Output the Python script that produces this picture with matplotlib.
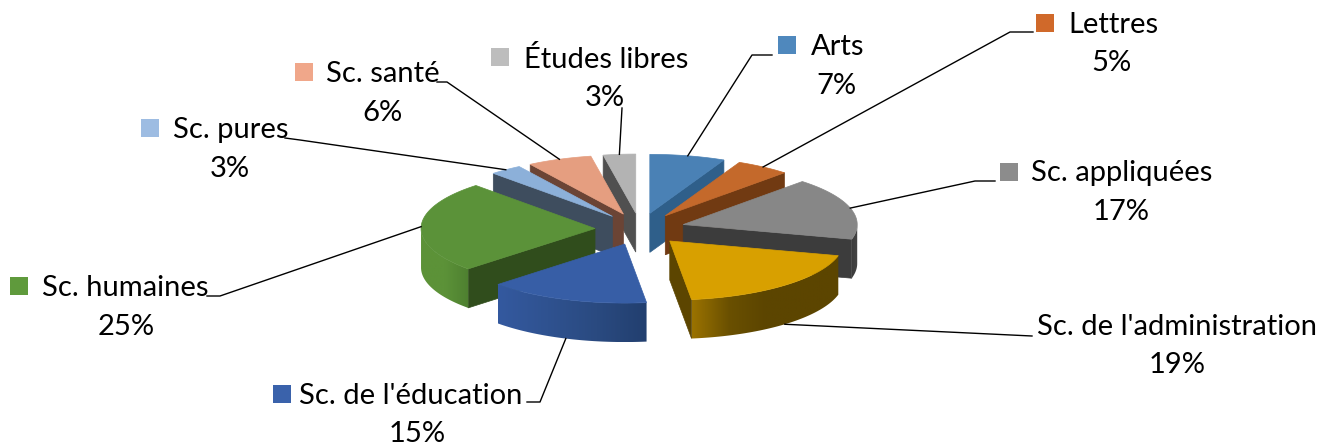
import numpy as np
import matplotlib
matplotlib.use('Agg')
import matplotlib.pyplot as plt
from matplotlib.colors import LinearSegmentedColormap
from matplotlib.patches import Polygon, Rectangle

plt.rcParams['font.family'] = ['Lato', 'DejaVu Sans']

# data, clockwise from 12 o'clock
categories = ['Arts', 'Lettres', 'Sc. appliquées', "Sc. de l'administration", "Sc. de l'éducation",
              'Sc. humaines', 'Sc. pures', 'Sc. santé', 'Études libres']
values = [7, 5, 17, 19, 15, 25, 3, 6, 3]

# colours of the top face, cut walls and rim gradient (right to left on screen)
top_colors = ['#4a81b5', '#c4692b', '#878787', '#d8a000', '#375ea6', '#5b9239', '#8cb0d9', '#e59e80', '#b3b3b3']
cut_colors = ['#2f5f8a', '#713a12', '#3c3c3c', '#5c4500', '#2c4a85', '#304d1c', '#3e4d5e', '#6b4435', '#505050']
rim_colors = [['#2f5f8a'] * 2, ['#713a12'] * 2, ['#454545', '#3c3c3c'],
              ['#5c4500', '#5c4500', '#5c4500', '#6a5000', '#9a7200'],
              ['#223f6f', '#2a4a80', '#2f5290', '#34599f'],
              ['#4e8030', '#5c9238', '#5c9238'],
              ['#3e4d5e'] * 2, ['#6b4435'] * 2, ['#505050'] * 2]
key_colors = ['#4f88bd', '#d0692a', '#8c8c8c', None, '#3a62ab', '#5f9a3c', '#9dbce2', '#f0a78a', '#bdbdbd']

# label layout in px
label_x = [811, 1068, 1031, 1037, 299, 42, 173, 326, 524]
label_y = [47, 25, 173, 327, 396, 288, 130, 74, 59]
pct_x = [836, 1111, 1121, 1177, 417, 126, 230, 383, 605]
pct_y = [86, 63, 212, 365, 434, 327, 169, 113, 98]
key_x = [778, 1036, 1000, None, 273, 10, 141, 295, 491]
key_y = [36, 14, 163, None, 385, 277, 119, 63, 48]
# leader line: points from the label, the last one is computed on the slice
leaders = [[(772, 55), (752, 55)], [(1033, 32), (1010, 32)], [(995, 181), (975, 181)], [(1032, 336)],
           [(527, 402), (540, 402)], [(207, 296), (220, 296)], [(285, 138), (300, 140)],
           [(437, 82), (447, 82)], [(622, 108)]]

# pie geometry in px
cx, cy = 640, 229
rx, ry = 174, 59
ex, ey = 45, 16
depth = 39

fig = plt.figure(figsize=(13.31, 4.47), dpi=100)
ax = fig.add_axes([0, 0, 1, 1])


def point(apex, t, drop=0):
    return (apex[0] + rx * np.sin(t), apex[1] - ry * np.cos(t) + drop)


edges = np.radians(np.cumsum([0] + values) * 3.6)
mids = (edges[:-1] + edges[1:]) / 2
apexes = [(cx + ex * np.sin(m), cy - ey * np.cos(m)) for m in mids]

# back slices first
order = sorted(range(len(values)), key=lambda i: -np.cos(mids[i]))
z = 2
for i in order:
    t1, t2 = edges[i], edges[i + 1]
    apex = apexes[i]
    # cut walls
    for t, visible in ((t1, np.sin(t1) < 0), (t2, np.sin(t2) > 0)):
        if visible:
            p = point(apex, t)
            pts = [apex, p, (p[0], p[1] + depth), (apex[0], apex[1] + depth)]
            ax.add_patch(Polygon(pts, fc=cut_colors[i], ec=cut_colors[i], lw=0.5, zorder=z))
    # rim, only the front half shows
    a, b = max(t1, np.pi / 2), min(t2, 3 * np.pi / 2)
    if b > a:
        ts = np.linspace(a, b, 60)
        upper = [point(apex, t) for t in ts]
        lower = [point(apex, t, depth) for t in ts[::-1]]
        rim = Polygon(upper + lower, fc='none', ec='none', zorder=z)
        ax.add_patch(rim)
        cmap = LinearSegmentedColormap.from_list('rim', rim_colors[i])
        x0, x1 = min(p[0] for p in upper), max(p[0] for p in upper)
        y0, y1 = min(p[1] for p in upper), max(p[1] for p in lower)
        im = ax.imshow(np.linspace(1, 0, 200).reshape(1, -1), cmap=cmap, vmin=0, vmax=1, aspect='auto',
                       extent=(x0, x1, y1, y0), zorder=z, interpolation='bilinear')
        im.set_clip_path(rim)
    # top face
    ts = np.linspace(t1, t2, 60)
    pts = [apex] + [point(apex, t) for t in ts]
    ax.add_patch(Polygon(pts, fc=top_colors[i], ec=top_colors[i], lw=0.5, zorder=z))
    z += 1

# labels and leaders
for i, name in enumerate(categories):
    ax.text(label_x[i], label_y[i], name, fontsize=21, color='black', ha='left', va='center', zorder=50)
    ax.text(pct_x[i], pct_y[i], f'{values[i]}%', fontsize=21, color='black', ha='center', va='center', zorder=50)
    if key_colors[i] is not None:
        ax.add_patch(Rectangle((key_x[i], key_y[i]), 18, 18, fc=key_colors[i], ec='none', zorder=50))
    # front slices have the leader on the bottom of the rim
    drop = depth if np.cos(mids[i]) < -0.5 else 0
    end = point(apexes[i], mids[i], drop)
    xs = [p[0] for p in leaders[i]] + [end[0]]
    ys = [p[1] for p in leaders[i]] + [end[1]]
    ax.plot(xs, ys, color='black', lw=1.0, zorder=40)

ax.set_xlim(0, 1331)
ax.set_ylim(447, 0)
ax.axis('off')
fig.savefig('out.png', dpi=100)
